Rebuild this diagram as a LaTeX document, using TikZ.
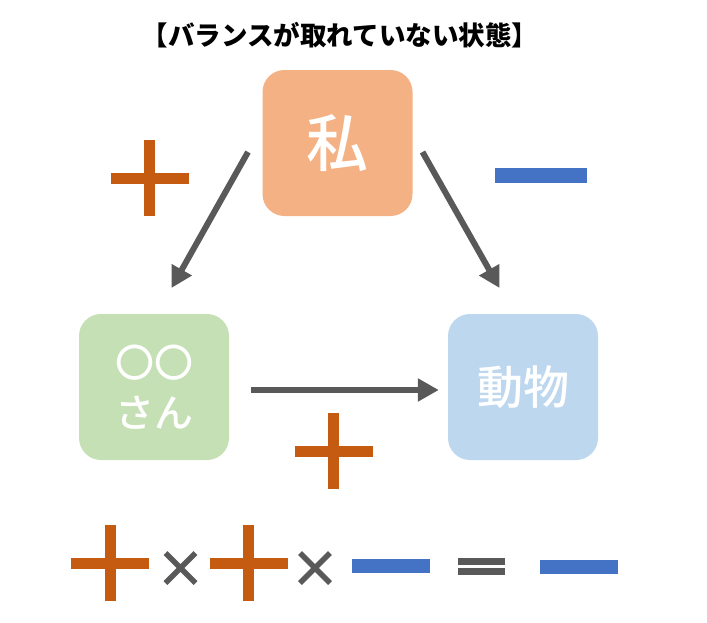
\documentclass[tikz,border=0pt]{standalone}
\usepackage{fontspec}
\setmainfont{Noto Sans CJK JP}
\newfontfamily\jpmed{Noto Sans CJK JP}[UprightFont=* Medium]
\usetikzlibrary{arrows.meta}
\definecolor{orangebox}{HTML}{F4B183}
\definecolor{greenbox}{HTML}{C5E0B4}
\definecolor{bluebox}{HTML}{BDD7EE}
\definecolor{plusc}{HTML}{C55A11}
\definecolor{minusc}{HTML}{4472C4}
\definecolor{grayc}{HTML}{595959}
\tikzset{
  plussign/.pic={\fill[plusc] (-39,-5.5) rectangle (39,5.5); \fill[plusc] (-5.5,-38) rectangle (5.5,38);},
  minussign/.pic={\fill[minusc] (-39,-7) rectangle (39,7);},
  wideminus/.pic={\fill[minusc] (-46,-7.5) rectangle (46,7.5);},
  timessign/.pic={\draw[grayc,line width=5.5pt] (-15,-15) -- (15,15) (-15,15) -- (15,-15);},
  equalsign/.pic={\fill[grayc] (-23.5,-8.5) rectangle (23.5,-1.5); \fill[grayc] (-23.5,1.5) rectangle (23.5,8.5);},
}
\begin{document}
\begin{tikzpicture}[x=1pt,y=-1pt,
  box/.style={rounded corners=22pt, minimum width=150pt, minimum height=146pt, text=white, inner sep=0pt, align=center},
  arr/.style={draw=grayc, line width=6pt, -{Triangle[length=21pt,width=22pt]}}]
\useasboundingbox (0,0) rectangle (707,622);
\node[font=\bfseries\fontsize{26.5}{30}\selectfont] (title) at (340,35) {【バランスが取れていない状態】};
\node[box, fill=orangebox, font=\jpmed\fontsize{62}{70}\selectfont] (me) at (337.5,143) {私};
\node[box, fill=greenbox, font=\jpmed\fontsize{39}{50}\selectfont] (san) at (154,387) {〇〇\\さん};
\node[box, fill=bluebox, font=\jpmed\fontsize{46}{55}\selectfont] (animal) at (523,387) {動物};
\coordinate (l1) at (248,152);
\coordinate (l2) at (171.5,288);
\coordinate (r1) at (422.5,152);
\coordinate (r2) at (499.5,288);
\draw[arr] (l1) -- (l2);
\draw[arr] (r1) -- (r2);
\draw[arr] ([xshift=22pt,yshift=-3pt]san.east) -- ([xshift=-9pt,yshift=-3pt]animal.west);
\pic at (149.5,178) {plussign};
\pic at (540.5,175) {wideminus};
\pic at (333.5,451) {plussign};
\pic at (110,563) {plussign};
\pic at (180.5,568) {timessign};
\pic at (248.5,563) {plussign};
\pic at (315,568) {timessign};
\pic at (391,566) {minussign};
\pic at (481.5,566) {equalsign};
\pic at (579,567) {minussign};
\end{tikzpicture}
\end{document}
